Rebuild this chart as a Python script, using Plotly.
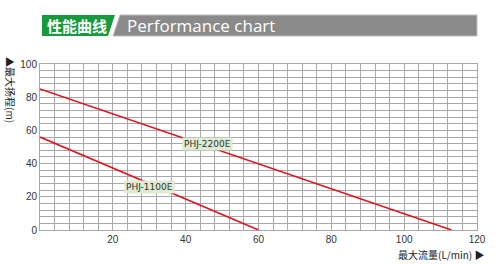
import plotly.graph_objects as go

# data
flow_2200 = [0, 113]
head_2200 = [85, 0]
flow_1100 = [0, 60]
head_1100 = [56, 0]
x_ticks = [20, 40, 60, 80, 100, 120]
y_ticks = [0, 20, 40, 60, 80, 100]
labels = ["PHJ-2200E", "PHJ-1100E"]
label_pos = [(46, 52), (30, 26)]

W, H = 500, 264
L, R, T, B = 40, 477, 64, 230

def px(x):
    return (x - L) / (R - L)

def py(y):
    return (B - y) / (B - T)

fig = go.Figure()
red = "#e5131d"
fig.add_trace(go.Scatter(x=flow_2200, y=head_2200, mode="lines",
                         line=dict(color=red, width=1.6), hoverinfo="skip"))
fig.add_trace(go.Scatter(x=flow_1100, y=head_1100, mode="lines",
                         line=dict(color=red, width=1.6), hoverinfo="skip"))

for txt, (ax, ay) in zip(labels, label_pos):
    fig.add_annotation(x=ax, y=ay, text=txt, showarrow=False,
                       font=dict(family="DejaVu Sans", size=9, color="#333"),
                       bgcolor="#dcebd2", borderpad=1)

def path(pts):
    return "M " + " L ".join(f"{px(a)},{py(b)}" for a, b in pts) + " Z"

fig.add_shape(type="path", xref="paper", yref="paper",
              path=path([(42, 15), (115, 15), (108, 36), (42, 36)]),
              fillcolor="#169a3c", line=dict(width=0), layer="above")
fig.add_shape(type="path", xref="paper", yref="paper",
              path=path([(120, 15), (477, 15), (477, 36), (113, 36)]),
              fillcolor="#8a8a8a", line=dict(color="#bdbdbd", width=1), layer="above")
fig.add_annotation(xref="paper", yref="paper", x=px(77), y=py(25.5),
                   xanchor="center", yanchor="middle",
                   text="<b>性能曲线</b>", showarrow=False,
                   font=dict(family="Noto Sans CJK SC", size=15, color="white"))
fig.add_annotation(xref="paper", yref="paper", x=px(125), y=py(25.5),
                   xanchor="left", yanchor="middle",
                   text="Performance chart", showarrow=False,
                   font=dict(family="Open Sans", size=17, color="white"))

fig.add_annotation(xref="paper", yref="paper", x=px(11), y=py(90),
                   xanchor="center", yanchor="middle",
                   text="▲最大扬程(m)", textangle=90, showarrow=False,
                   font=dict(family="Noto Sans CJK SC", size=10, color="#222"))
fig.add_annotation(xref="paper", yref="paper", x=px(486), y=py(254),
                   xanchor="right", yanchor="middle",
                   text="最大流量(L/min) ▶", showarrow=False,
                   font=dict(family="Noto Sans CJK SC", size=10, color="#222"))

grid = "#a8a8a8"
fig.update_xaxes(range=[0, 120], tickvals=x_ticks, showgrid=True, gridcolor=grid,
                 gridwidth=1, minor=dict(dtick=4, showgrid=True, gridcolor=grid, gridwidth=1),
                 showline=True, linecolor=grid, mirror=True, zeroline=False, ticks="",
                 tickfont=dict(family="Liberation Sans", size=10, color="#333"))
fig.update_yaxes(range=[0, 100], tickvals=y_ticks, showgrid=True, gridcolor=grid,
                 gridwidth=1, minor=dict(dtick=4, showgrid=True, gridcolor=grid, gridwidth=1),
                 showline=True, linecolor=grid, mirror=True, zeroline=False, ticks="",
                 tickfont=dict(family="Liberation Sans", size=10, color="#333"))

fig.update_layout(width=W, height=H, margin=dict(l=L, r=W - R, t=T, b=H - B),
                  plot_bgcolor="white", paper_bgcolor="white", showlegend=False)
fig.write_html("out.html")
